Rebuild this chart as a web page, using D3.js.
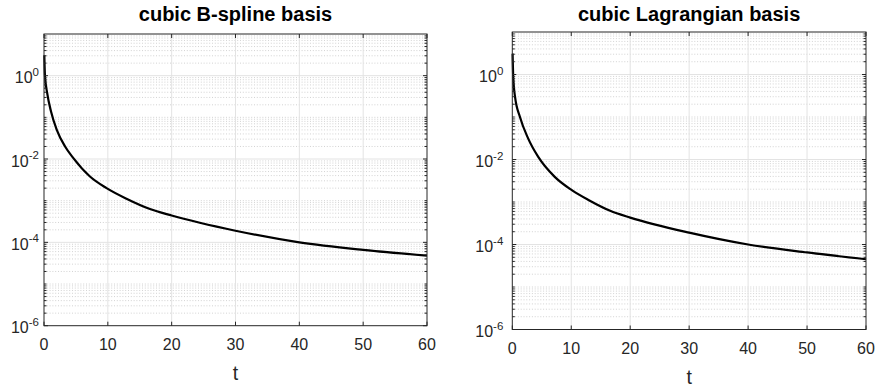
<!DOCTYPE html>
<meta charset="utf-8">
<head>
  <title>basis decay</title>
</head>
<style>
body { margin: 0; background: #fff; }
svg { font-family: "Liberation Sans", Arial, Helvetica, sans-serif; }
.major { stroke: #e3e3e3; stroke-width: 1; }
.minor { stroke: #c8c8c8; stroke-width: 0.8; stroke-dasharray: 1,1.8; }
.frame { fill: none; stroke: #262626; stroke-width: 1; }
.tick { stroke: #262626; stroke-width: 1; }
.lab { fill: #262626; }
</style>
<body>
<svg width="877" height="386"></svg>
<script src="https://cdnjs.cloudflare.com/ajax/libs/d3/7.8.5/d3.min.js"></script>
<script>
// data
var titles = ["cubic B-spline basis", "cubic Lagrangian basis"];
var xTicks = [0, 10, 20, 30, 40, 50, 60];
var yTickExps = [0, -2, -4, -6];

var tBspline = [0.05, 0.15, 0.5, 1.1, 2.0, 3.3, 4.6, 7.2, 9.8, 13, 16.6, 20, 30, 40, 50, 60];
var yBspline = [3.1, 1.0, 0.38, 0.138, 0.05, 0.02, 0.0105, 0.0038, 0.002, 0.0011, 0.00063, 0.00044, 0.00019, 0.0001, 0.000066, 0.000048];

var tLagrange = [0.05, 0.15, 0.46, 1.3, 2.7, 4.4, 7.2, 10.1, 13, 16.6, 20, 30, 40, 50, 60];
var yLagrange = [3.1, 0.95, 0.3, 0.1, 0.031, 0.0115, 0.0039, 0.0019, 0.0011, 0.00062, 0.00043, 0.00019, 0.0001, 0.000065, 0.000045];

var panels = [
  {title: titles[0], t: tBspline, y: yBspline, x0: 44, x1: 427, y0: 34, y1: 325.7, labGap: 5},
  {title: titles[1], t: tLagrange, y: yLagrange, x0: 512.3, x1: 866, y0: 32, y1: 329.5, labGap: 9}
];

var svg = d3.select("svg");

panels.forEach(function(p) {
  var g = svg.append("g");
  var x = d3.scaleLinear().domain([0, 60]).range([p.x0, p.x1]);
  var y = d3.scaleLog().domain([1e-6, 10]).range([p.y1, p.y0]);

  // minor grid values: 2..9 x 10^k plus odd decades
  var minors = [];
  for (var k = -6; k < 1; k++) {
    for (var m = 1; m < 10; m++) {
      if (m == 1 && k % 2 == 0) continue;
      minors.push(m * Math.pow(10, k));
    }
  }

  g.selectAll(".minor").data(minors).enter().append("line")
    .attr("class", "minor")
    .attr("x1", p.x0).attr("x2", p.x1)
    .attr("y1", function(d){ return y(d); }).attr("y2", function(d){ return y(d); });

  g.selectAll(".hmaj").data(yTickExps.slice(0, 3)).enter().append("line")
    .attr("class", "major")
    .attr("x1", p.x0).attr("x2", p.x1)
    .attr("y1", function(d){ return y(Math.pow(10, d)); })
    .attr("y2", function(d){ return y(Math.pow(10, d)); });

  g.selectAll(".vmaj").data(xTicks.slice(1, -1)).enter().append("line")
    .attr("class", "major")
    .attr("x1", function(d){ return x(d); }).attr("x2", function(d){ return x(d); })
    .attr("y1", p.y0).attr("y2", p.y1);

  // curve
  var line = d3.line()
    .x(function(d){ return x(d[0]); })
    .y(function(d){ return y(d[1]); })
    .curve(d3.curveMonotoneX);
  g.append("path")
    .datum(d3.zip(p.t, p.y))
    .attr("d", line)
    .attr("fill", "none")
    .attr("stroke", "#000")
    .attr("stroke-width", 2.2);

  // frame
  g.append("rect").attr("class", "frame")
    .attr("x", p.x0).attr("y", p.y0)
    .attr("width", p.x1 - p.x0).attr("height", p.y1 - p.y0);

  // ticks
  xTicks.forEach(function(d) {
    g.append("line").attr("class", "tick")
      .attr("x1", x(d)).attr("x2", x(d)).attr("y1", p.y1).attr("y2", p.y1 - 4);
    g.append("line").attr("class", "tick")
      .attr("x1", x(d)).attr("x2", x(d)).attr("y1", p.y0).attr("y2", p.y0 + 4);
  });
  minors.forEach(function(d) {
    g.append("line").attr("class", "tick")
      .attr("x1", p.x0).attr("x2", p.x0 + 2.5).attr("y1", y(d)).attr("y2", y(d));
    g.append("line").attr("class", "tick")
      .attr("x1", p.x1).attr("x2", p.x1 - 2.5).attr("y1", y(d)).attr("y2", y(d));
  });
  yTickExps.forEach(function(e) {
    var yy = y(Math.pow(10, e));
    g.append("line").attr("class", "tick")
      .attr("x1", p.x0).attr("x2", p.x0 + 4).attr("y1", yy).attr("y2", yy);
    g.append("line").attr("class", "tick")
      .attr("x1", p.x1).attr("x2", p.x1 - 4).attr("y1", yy).attr("y2", yy);
  });

  // x tick labels
  g.selectAll(".xl").data(xTicks).enter().append("text")
    .attr("class", "lab")
    .attr("x", function(d){ return x(d); })
    .attr("y", p.y1 + 24)
    .attr("text-anchor", "middle")
    .attr("font-size", 16)
    .text(function(d){ return d; });

  // y tick labels 10^e
  yTickExps.forEach(function(e) {
    var t = g.append("text").attr("class", "lab")
      .attr("x", p.x0 - p.labGap)
      .attr("y", y(Math.pow(10, e)) + 7.5)
      .attr("text-anchor", "end")
      .attr("font-size", 16);
    t.append("tspan").text("10");
    t.append("tspan").attr("dy", -7.5).attr("font-size", 11.5).text(e);
  });

  // axis label and title
  g.append("text").attr("class", "lab")
    .attr("x", (p.x0 + p.x1) / 2).attr("y", p.y1 + 54)
    .attr("text-anchor", "middle").attr("font-size", 19.5)
    .text("t");
  g.append("text")
    .attr("x", (p.x0 + p.x1) / 2).attr("y", 21)
    .attr("text-anchor", "middle").attr("font-size", 20).attr("font-weight", "bold")
    .text(p.title);
});
</script>
</body>
</html>
